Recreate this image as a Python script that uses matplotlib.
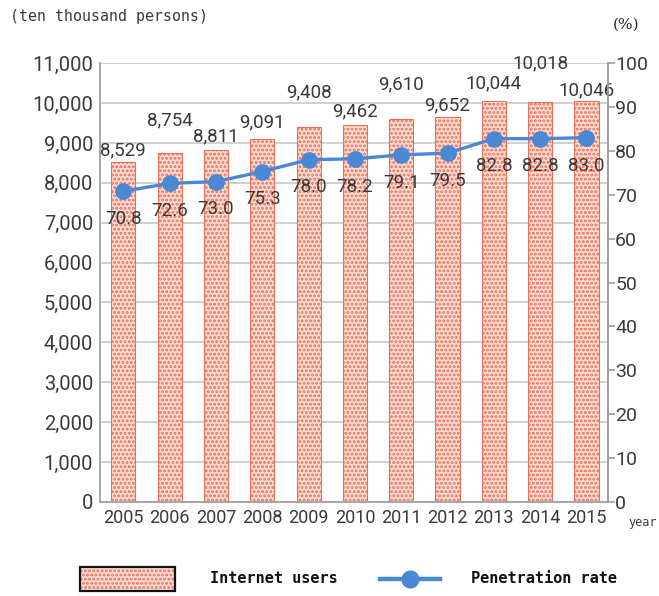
import matplotlib
matplotlib.use('Agg')
import matplotlib.pyplot as plt
from matplotlib.patches import Rectangle
from matplotlib.lines import Line2D

years = ['2005', '2006', '2007', '2008', '2009', '2010', '2011', '2012', '2013', '2014', '2015']
users = [8529, 8754, 8811, 9091, 9408, 9462, 9610, 9652, 10044, 10018, 10046]
rate = [70.8, 72.6, 73.0, 75.3, 78.0, 78.2, 79.1, 79.5, 82.8, 82.8, 83.0]
user_labels = ['8,529', '8,754', '8,811', '9,091', '9,408', '9,462', '9,610', '9,652', '10,044', '10,018', '10,046']

# how high each bar label's centre sits above its bar (points), as in the original
label_lift = [8.5, 23.5, 10, 12, 24.5, 9.5, 24.5, 8.5, 13, 28, 8]

font = ['Roboto', 'DejaVu Sans']
txt = '#3a3a3a'
plt.rcParams['hatch.linewidth'] = 1.4

fig = plt.figure(figsize=(6.59, 5.96), dpi=100)
ax = fig.add_axes([0.152, 0.158, 0.771, 0.736])
x = list(range(len(years)))

ax.bar(x, users, width=0.52, color='#fcdcd2', edgecolor='#e8705a', linewidth=0.8, hatch='....', zorder=2)
ax.set_ylim(0, 11000)
ax.set_xlim(-0.5, 10.47)
ax.set_yticks(range(0, 11001, 1000))
ax.set_yticklabels([f'{v:,}' for v in range(0, 11001, 1000)], family=font, fontsize=14.5, color=txt)
ax.set_xticks(x)
ax.set_xticklabels(years, family=font, fontsize=13, color=txt)
ax.yaxis.grid(True, color='#c8c8c8', linewidth=1.2, zorder=0)
ax.set_axisbelow(True)
ax.spines['top'].set_visible(False)
for s in ['left', 'bottom', 'right']:
    ax.spines[s].set_color('#a0a0a0')
    ax.spines[s].set_linewidth(1.3)
ax.tick_params(axis='x', length=0, pad=5)
ax.tick_params(axis='y', length=0, pad=5)

for i, v in enumerate(users):
    ax.annotate(user_labels[i], (i, v), xytext=(0, label_lift[i]), textcoords='offset points',
                ha='center', va='center', family=font, fontsize=13.5, color=txt, zorder=5)

ax2 = ax.twinx()
ax2.set_ylim(0, 100)
ax2.set_yticks(range(0, 101, 10))
ax2.set_yticklabels([str(v) for v in range(0, 101, 10)], family=font, fontsize=14, color=txt)
ax2.tick_params(axis='y', length=5, width=1.2, color='#a0a0a0', pad=0)
for s in ['top', 'left', 'bottom']:
    ax2.spines[s].set_visible(False)
ax2.spines['right'].set_color('#a0a0a0')
ax2.spines['right'].set_linewidth(1.3)
ax2.plot(x, rate, color='#4a88d4', linewidth=2.4, marker='o', markersize=11, zorder=4)
for i, v in enumerate(rate):
    ax2.annotate(f'{v:.1f}', (i, v), xytext=(0, -20), textcoords='offset points',
                 ha='center', va='center', family=font, fontsize=13.5, color=txt, zorder=5)

fig.text(0.015, 0.972, '(ten thousand persons)', family='DejaVu Sans Mono', fontsize=10.7, color=txt, va='center')
fig.text(0.95, 0.958, '(%)', family='DejaVu Serif', fontsize=11, color='#222222', va='center', ha='center')
fig.text(0.953, 0.124, 'year', family='DejaVu Sans Mono', fontsize=8.5, color=txt, va='center', ha='left')

# legend drawn along the bottom
fig.patches.append(Rectangle((0.122, 0.008), 0.143, 0.04, transform=fig.transFigure, facecolor='#fcdcd2',
                             edgecolor='#e8705a', hatch='....', linewidth=0))
fig.patches.append(Rectangle((0.122, 0.008), 0.143, 0.04, transform=fig.transFigure, facecolor='none',
                             edgecolor='#111111', linewidth=1.6))
fig.text(0.318, 0.029, 'Internet users', family='DejaVu Sans Mono', fontsize=11, weight='bold',
         color='#111111', va='center')
fig.lines.append(Line2D([0.577, 0.667], [0.029, 0.029], transform=fig.transFigure, color='#4a88d4',
                        linewidth=3.2))
fig.lines.append(Line2D([0.622], [0.029], transform=fig.transFigure, color='#4a88d4', marker='o',
                        markersize=12, linestyle='none'))
fig.text(0.714, 0.029, 'Penetration rate', family='DejaVu Sans Mono', fontsize=11, weight='bold',
         color='#111111', va='center')

fig.savefig('out.png', dpi=100)
